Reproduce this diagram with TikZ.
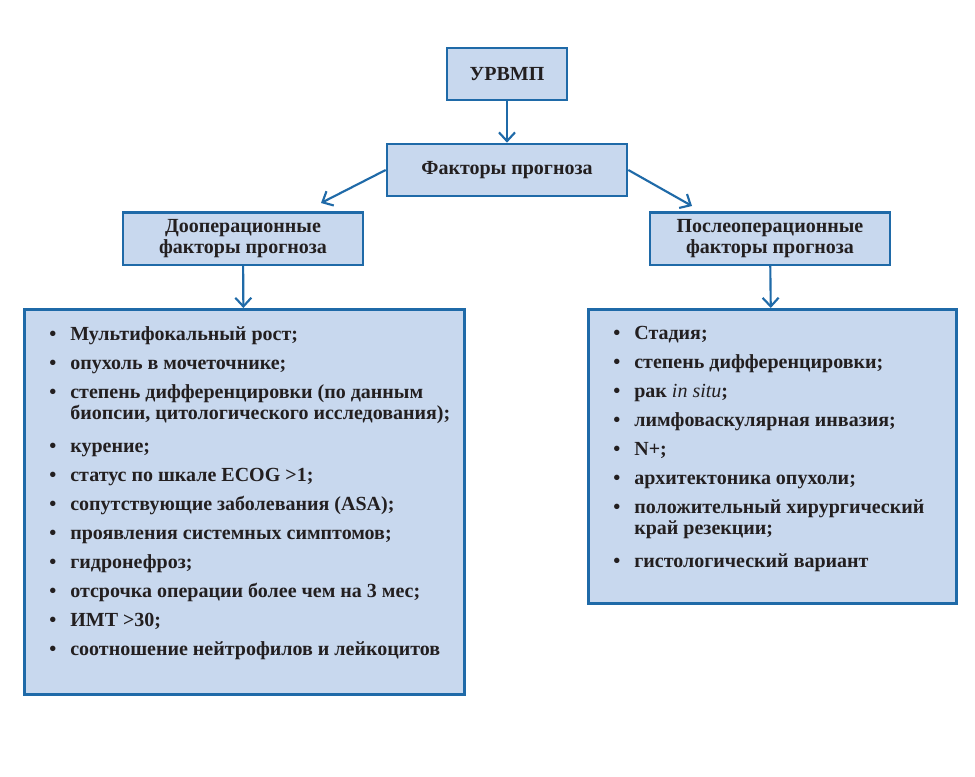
\documentclass[tikz,border=0pt]{standalone}
\usepackage{fontspec}
\setmainfont{Liberation Serif}
\usetikzlibrary{arrows.meta}
\definecolor{boxfill}{RGB}{200,216,238}
\definecolor{boxline}{RGB}{31,106,168}
\definecolor{ink}{RGB}{35,31,32}
\newcommand\fact[2][0pt]{\par\vspace{#1}\noindent\hangindent=15.75pt\makebox[15.75pt][l]{\textbullet}#2}
\newcommand\factlist[3]{\parbox[c][#1][t]{#2}{\leftskip=18.75pt\rightskip=0pt plus 1fil
  \baselineskip=16pt\parskip=5.75pt\hyphenpenalty=10000\vspace*{7pt}#3}}
\tikzset{
  titlebox/.style={draw=boxline, fill=boxfill, line width=2pt, inner sep=0pt,
    minimum width=180pt, minimum height=39.5pt, align=center},
  listbox/.style={draw=boxline, fill=boxfill, line width=2pt, inner sep=0pt, anchor=north west},
  conn/.style={draw=boxline, line width=1.6pt, -{Straight Barb[length=6.5pt,width=12pt]}}
}
\begin{document}
\begin{tikzpicture}[x=0.75pt, y=-0.75pt,
    every node/.style={text=ink, font=\fontsize{15pt}{16pt}\selectfont\bfseries}]
    \useasboundingbox[fill=white] (0,0) rectangle (975,776);
    \node[titlebox, minimum width=90pt, minimum height=39pt] (urvmp) at (507,74) {УРВМП};
    \node[titlebox, minimum height=39pt] (fp) at (507,170) {Факторы прогноза};
    \node[titlebox] (pre) at (243,238.5) {Дооперационные\\факторы прогноза};
    \node[titlebox] (post) at (770,238.5) {Послеоперационные\\факторы прогноза};
    \node[listbox] (preList) at (23,308) {\factlist{288.75pt}{330pt}{%
      \fact{Мультифокальный рост;}
      \fact{опухоль в мочеточнике;}
      \fact{степень дифференцировки (по данным\newline биопсии, цитологического исследования);}
      \fact[3pt]{курение;}
      \fact{статус по шкале ECOG >1;}
      \fact{сопутствующие заболевания (ASA);}
      \fact{проявления системных симптомов;}
      \fact{гидронефроз;}
      \fact{отсрочка операции более чем на 3 мес;}
      \fact{ИМТ >30;}
      \fact{соотношение нейтрофилов и лейкоцитов}}};
    \node[listbox] (postList) at (587,308) {\factlist{220.5pt}{276pt}{%
      \fact{Стадия;}
      \fact{степень дифференцировки;}
      \fact{рак \textit{\mdseries in situ};}
      \fact{лимфоваскулярная инвазия;}
      \fact{N+;}
      \fact{архитектоника опухоли;}
      \fact{положительный хирургический\newline край резекции;}
      \fact[3pt]{гистологический вариант}}};
    \coordinate (preTip) at (321,203);
    \coordinate (postTip) at (692,206);
    \foreach \a/\b in {urvmp/fp, pre/preList, post/postList, fp.west/preTip, fp.east/postTip}
      \draw[conn] (\a) -- (\b);
  \end{tikzpicture}
\end{document}
